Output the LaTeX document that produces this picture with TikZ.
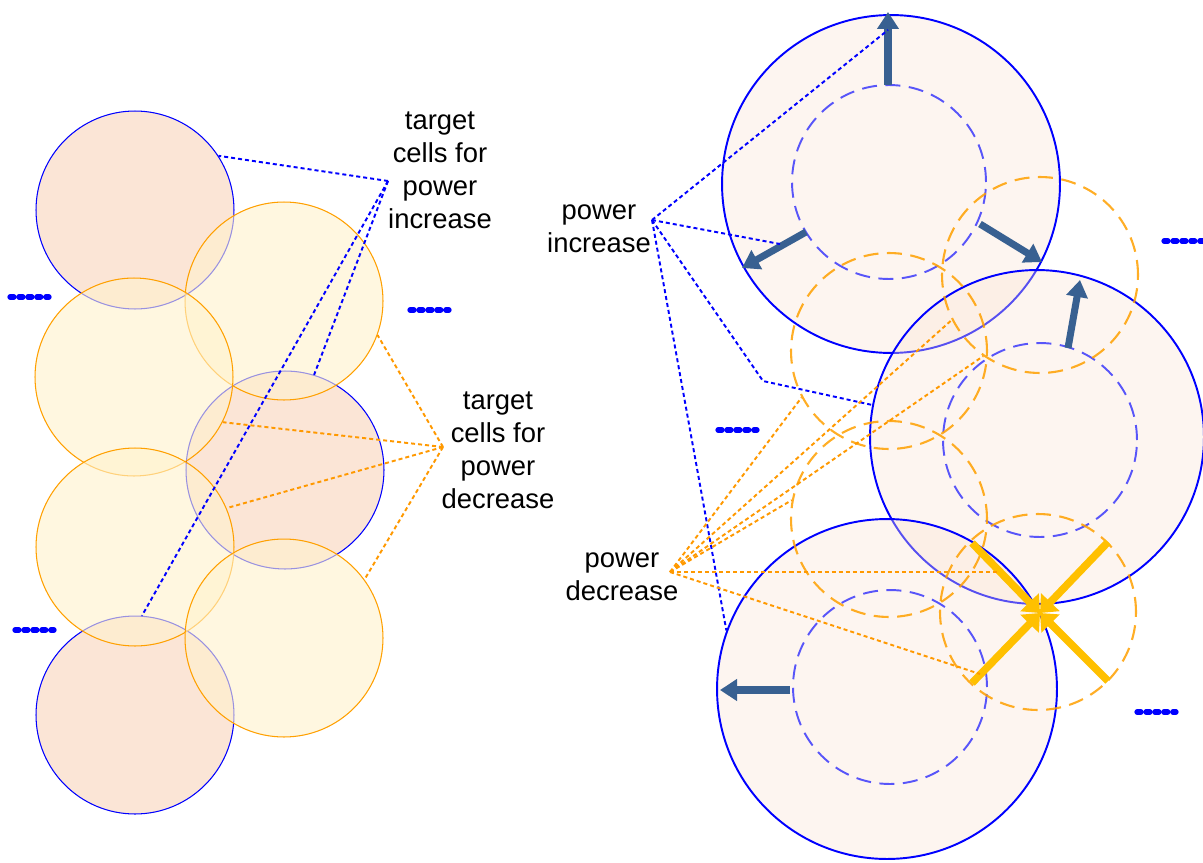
\documentclass[tikz,border=0pt]{standalone}
\usepackage{fontspec}
\setmainfont{Liberation Sans}
\usetikzlibrary{arrows.meta}
\definecolor{cblue}{RGB}{0,0,255}
\definecolor{corange}{RGB}{255,160,0}
\definecolor{cline}{RGB}{255,153,0}
\definecolor{cpink}{RGB}{251,229,214}
\definecolor{cyell}{RGB}{255,242,204}
\definecolor{csteel}{RGB}{56,96,145}
\definecolor{cgold}{RGB}{255,192,0}
\begin{document}
\begin{tikzpicture}[x=0.02cm,y=-0.02cm,
  cellblue/.style={circle,inner sep=0pt,minimum size=3.96cm,draw=cblue,line width=0.6pt,fill=cpink},
  cellorange/.style={circle,inner sep=0pt,minimum size=3.96cm,draw=corange,line width=0.6pt,fill=cyell,fill opacity=0.6},
  bigcell/.style={circle,inner sep=0pt,draw=cblue,line width=1.1pt,fill=cpink,fill opacity=0.35},
  innerdash/.style={circle,inner sep=0pt,minimum size=3.88cm,draw=cblue,draw opacity=0.65,line width=1.1pt,dash pattern=on 0.3cm off 0.17cm},
  odash/.style={circle,inner sep=0pt,minimum size=3.92cm,draw=corange,draw opacity=0.85,line width=1.2pt,dash pattern=on 0.3cm off 0.17cm},
  powarrow/.style={draw=csteel,line width=4pt,-{Triangle[length=0.34cm,width=0.42cm]}},
  goldarrow/.style={draw=cgold,line width=4.3pt,-{Triangle[length=0.3cm,width=0.5cm]}},
  bluedot/.style={draw=cblue,line width=1.1pt,dash pattern=on 2.3pt off 1.7pt},
  orangedot/.style={draw=cline,line width=1.1pt,dash pattern=on 2.3pt off 1.7pt},
  legmark/.style={draw=cblue,line width=3pt,line cap=round,dash pattern=on 2.2pt off 2.9pt},
  lbl/.style={align=center,font=\fontsize{15.6pt}{18.8pt}\selectfont,inner sep=0pt}
]
\path[use as bounding box,fill=white] (0,0) rectangle (1203,862);

% ---------- left panel ----------
\node[cellblue] (A) at (135,210) {};
\node[cellblue] (D) at (285,470) {};
\node[cellblue] (G) at (135,715) {};
\node[cellorange] (B) at (284,301) {};
\node[cellorange] (C) at (134,377) {};
\node[cellorange] (E) at (135,547) {};
\node[cellorange] (F) at (284,638) {};

\node[lbl] (tinc) at (440,170) {target\\cells for\\power\\increase};
\node[lbl] (tdec) at (498,450) {target\\cells for\\power\\decrease};
\coordinate (tincp) at (388,181);
\coordinate (tdecp) at (443,447);

\draw[bluedot] (tincp) -- (A.33);
\draw[bluedot] (tincp) -- (D.73);
\draw[bluedot] (tincp) -- (G.86);
\draw[orangedot] (tdecp) -- (B.-20);
\draw[orangedot] (tdecp) -- (C.-27);
\draw[orangedot] (tdecp) -- (E.23);
\draw[orangedot] (tdecp) -- (F.36);

% ---------- right panel ----------
\node[bigcell,minimum size=6.76cm] (P) at (891,184) {};
\node[bigcell,minimum size=6.68cm] (Q) at (1037,437) {};
\node[bigcell,minimum size=6.80cm] (R) at (887,689) {};

\node[innerdash] (p) at (889,182) {};
\node[innerdash] (q) at (1040,440) {};
\node[innerdash] (r) at (890,687) {};

\node[odash] (o1) at (1040,275) {};
\node[odash] (o2) at (889,351) {};
\node[odash] (o3) at (889,519) {};
\node[odash] (o4) at (1038,612) {};

% power increase arrows
\coordinate (a1s) at (888,85);  \coordinate (a1e) at (888,12);
\coordinate (a2s) at (806,232); \coordinate (a2e) at (742,268);
\coordinate (a3s) at (980,224); \coordinate (a3e) at (1042,262);
\coordinate (a4s) at (1068,348);\coordinate (a4e) at (1080,280);
\coordinate (a5s) at (790,690); \coordinate (a5e) at (720,690);
\draw[powarrow] (a1s) -- (a1e);
\draw[powarrow] (a2s) -- (a2e);
\draw[powarrow] (a3s) -- (a3e);
\draw[powarrow] (a4s) -- (a4e);
\draw[powarrow] (a5s) -- (a5e);

% power decrease arrows
\coordinate (X) at (1040,613);
\coordinate (y1) at (972,543);
\coordinate (y2) at (1108,542);
\coordinate (y3) at (972,683);
\coordinate (y4) at (1108,681);
\draw[goldarrow] (y1) -- (X);
\draw[goldarrow] (y2) -- (X);
\draw[goldarrow] (y3) -- (X);
\draw[goldarrow] (y4) -- (X);

% labels
\node[lbl] (pinc) at (599,229) {power\\increase};
\node[lbl] (pdec) at (622,577) {power\\decrease};
\coordinate (pincp) at (652,220);
\coordinate (pdecp) at (670,572);
\coordinate (a1m) at (888,30);
\coordinate (a2m) at (780,244);
\coordinate (bend) at (763,381);
\coordinate (y1m) at (997,572);
\coordinate (y3m) at (980,674);

\draw[bluedot] (pincp) -- (a1m);
\draw[bluedot] (pincp) -- (a2m);
\draw[bluedot] (pincp) -- (bend) -- (Q.169);
\draw[bluedot] (pincp) -- (R.160);

\draw[orangedot] (pdecp) -- (o2.208);
\draw[orangedot] (pdecp) -- (o1.207);
\draw[orangedot] (pdecp) -- (o1.235);
\draw[orangedot] (pdecp) -- (o3.169);
\draw[orangedot] (pdecp) -- (y1m);
\draw[orangedot] (pdecp) -- (y3m);

% small legend marks
\draw[legmark] (10,297) -- (49,297);
\draw[legmark] (410,310) -- (449,310);
\draw[legmark] (15,630) -- (54,630);
\draw[legmark] (718,430) -- (757,430);
\draw[legmark] (1164,241) -- (1203,241);
\draw[legmark] (1137,712) -- (1176,712);
\end{tikzpicture}
\end{document}
